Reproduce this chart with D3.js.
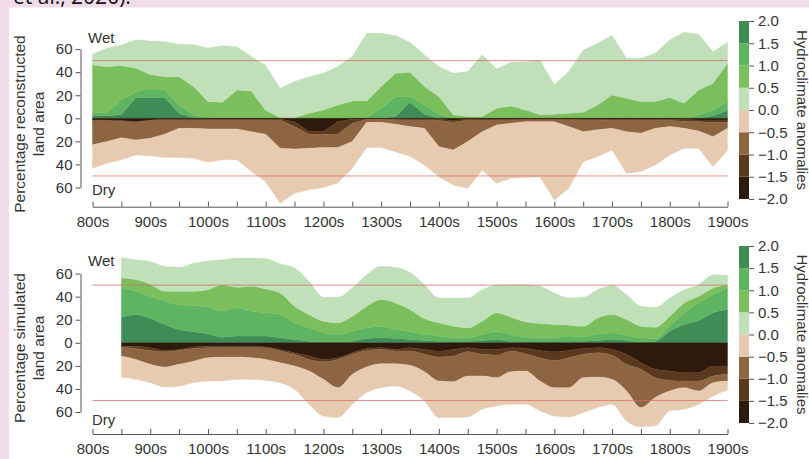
<!DOCTYPE html>
<html>
<head>
<meta charset="utf-8">
<script src="https://cdn.jsdelivr.net/npm/d3@7"></script>
<style>
  body { margin: 0; background: #f0dce8; }
  svg { display: block; }
  text { font-family: "Liberation Sans", Arial, sans-serif; fill: #333; }
</style>
</head>
<body>
<svg id="chart" width="809" height="459"></svg>
<script>
// Sample years (25-year steps)
const reconYears = [
  800, 825, 850, 875,
  900, 925, 950, 975,
  1000, 1025, 1050, 1075,
  1100, 1125, 1150, 1175,
  1200, 1225, 1250, 1275,
  1300, 1325, 1350, 1375,
  1400, 1425, 1450, 1475,
  1500, 1525, 1550, 1575,
  1600, 1625, 1650, 1675,
  1700, 1725, 1750, 1775,
  1800, 1825, 1850, 1875,
  1900
];
const simYears = [
  850, 875,
  900, 925, 950, 975,
  1000, 1025, 1050, 1075,
  1100, 1125, 1150, 1175,
  1200, 1225, 1250, 1275,
  1300, 1325, 1350, 1375,
  1400, 1425, 1450, 1475,
  1500, 1525, 1550, 1575,
  1600, 1625, 1650, 1675,
  1700, 1725, 1750, 1775,
  1800, 1825, 1850, 1875,
  1900
];

// Reconstructed: % land area per anomaly class
const reconWet4 = [2.3, 2.3, 3, 18,  18, 18, 4.3, 0.5,  0, 0, 0, 0,  0, 0, 0, 0,  0, 0, 0, 0,  0, 1.5, 14, 3.5,  0, 0, 0, 0,  0, 0, 0, 0,  0, 0, 0, 0,  0, 0, 0, 0,  0, 0, 0, 2.3,  7];
const reconWet3 = [2.0, 2.9, 13, 5,  8, 6.6, 7.3, 2.5,  0.5, 0, 0, 0,  0, 0, 0, 0,  0, 0, 0, 0.5,  8.7, 17.3, 4.8, 8.1,  3.5, 0, 0, 0,  0, 0, 0, 0,  0, 0, 0, 0,  0, 0, 0, 0,  0, 0, 3, 4.9,  7.5];
const reconWet2 = [41.9, 39.6, 29.7, 20.4,  12, 11.4, 24.4, 24.5,  14, 14, 24.5, 23.7,  7, 0.5, 0.5, 4.3,  7.2, 11.6, 15, 14.5,  18.8, 20.2, 21.2, 15.9,  15.3, 3, 1.5, 1.5,  8.7, 10.7, 7.2, 3,  3.5, 4.3, 5.2, 11.6,  20.2, 17.3, 14.5, 14.5,  18, 13, 21.6, 23.1,  33.2];
const reconWet1 = [9.3, 15.9, 17.9, 24.6,  29, 30.5, 28, 36.5,  46.5, 49, 37.5, 29.8,  39, 25.5, 31.5, 31.7,  31.8, 33.4, 38.5, 58.7,  46.2, 32.7, 26, 27.5,  26.2, 36, 39, 53.5,  34.3, 37.8, 41.8, 47.5,  25.5, 36.2, 53.8, 53.4,  51.5, 34.7, 37.5, 41.9,  50, 61.6, 48.2, 27.5,  18.3];
const reconDry1 = [20.4, 18.8, 19.2, 13,  15.1, 20.1, 25.3, 26,  28.8, 26.8, 26.8, 34.4,  41.1, 47.7, 38.4, 36,  34.6, 30.6, 23.2, 21.9,  21.9, 23.8, 25.8, 31.8,  26, 30.3, 40.5, 33.2,  50.6, 47.7, 48.5, 47.7,  67.9, 53.5, 26, 23.2,  18.8, 36.1, 33.2, 31.8,  24.6, 17.3, 15, 26,  19.3];
const reconDry2 = [21, 18.2, 14.3, 15.6,  15.3, 12.4, 7.2, 7.2,  7.7, 7.7, 7.7, 10.1,  12.4, 24.5, 19.4, 12.1,  11.5, 11.5, 15.9, 2.6,  2.6, 4, 5.7, 7.2,  22.6, 24, 18.7, 10.1,  4.3, 2.8, 1.7, 1.7,  1.7, 6, 10.1, 8.5,  6.7, 9.6, 11, 6.7,  5.2, 6.2, 8, 12.4,  5.2];
const reconDry3 = [0.6, 0.6, 0.5, 0.3,  0.6, 0.6, 0.6, 0.6,  0.6, 0.6, 0.6, 0.6,  0.6, 0.6, 4.3, 2.4,  2.4, 11, 3.4, 0.3,  0.3, 0.6, 0.6, 0.6,  1.1, 1.5, 0.6, 0.6,  0.6, 0.6, 0.6, 0.6,  0.6, 0.6, 0.6, 0.6,  1.1, 1.1, 1.1, 1.1,  1.1, 1.3, 1.5, 2,  2];
const reconDry4 = [1.4, 1.4, 2, 2.9,  1.4, 0.9, 0.9, 0.9,  0.9, 0.9, 0.9, 0.9,  0.9, 0.9, 2.9, 11.5,  11.5, 2.9, 0.9, 0.6,  0.6, 0.6, 0.9, 0.9,  0.9, 2, 0.9, 0.9,  0.9, 0.9, 0.6, 0.6,  0.6, 0.6, 0.9, 0.9,  0.9, 0.9, 0.9, 0.9,  0.9, 1.2, 1.5, 1.5,  1.5];

// Simulated: % land area per anomaly class
const simWet4 = [22, 24.5,  21, 15.9, 11.5, 9.5,  7.8, 4.9, 5.8, 5.8,  5.8, 4.3, 2.9, 1.4,  0.9, 0.9, 1.4, 3.7,  4.3, 3.7, 2.9, 2,  1.4, 1.4, 1.4, 2,  2.9, 1.4, 1.4, 1.4,  1.4, 1.4, 1.4, 2,  2.9, 2, 0.9, 1.4,  10, 15.9, 19.3, 26,  28.8];
const simWet3 = [25.5, 20.2,  19.3, 20.1, 21.5, 22.8,  23, 22.5, 24.5, 21.6,  20.2, 20.2, 14.4, 11.6,  7.7, 6.3, 8.6, 9.3,  10.1, 7.8, 6.6, 5.2,  4.4, 2.9, 2.9, 5.2,  6.6, 5.8, 3.5, 2.9,  2.9, 4.4, 3.5, 5.8,  5.7, 4.6, 3.4, 2.3,  4.4, 10.1, 15.3, 15.8,  18.7];
const simWet2 = [8.7, 10.1,  10.7, 8.7, 11.7, 12.4,  15.3, 23, 17.8, 21.6,  20.7, 18.7, 14.4, 11.5,  10.1, 10.1, 13, 18.7,  23.1, 23.1, 19.3, 13.8,  11.5, 10.1, 8.7, 11.5,  16.5, 15, 13.3, 12.4,  11.6, 9.5, 9.5, 13.8,  15.9, 13.6, 10.1, 9.8,  8.6, 8.6, 5.7, 5.7,  2.9];
const simWet1 = [17.8, 17.2,  19.6, 21.6, 20.7, 24.3,  24.9, 21.6, 25.4, 24.5,  26.3, 25.1, 33.1, 28.8,  20.8, 22.2, 24.5, 27.3,  28.8, 30.8, 32.2, 29.4,  21.6, 24.5, 25.9, 27.3,  24, 28.2, 32.2, 32.3,  27.3, 23.6, 25.1, 24.4,  25.5, 21.6, 17.3, 17.3,  15.9, 11.4, 10.1, 11.5,  8.1];
const simDry1 = [18.2, 17.3,  15.9, 17.3, 18.8, 18.7,  20.1, 20.7, 19.3, 18.7,  18.2, 17.3, 20.1, 28.8,  31.7, 25.9, 25.9, 22.2,  20.7, 19.3, 22.3, 25.4,  31.7, 31.1, 35.5, 28.8,  24.5, 28.3, 28.8, 25.9,  24.5, 25.4, 30.2, 26.5,  21.6, 25.9, 16.7, 24.5,  17.2, 18.7, 11.5, 11.5,  7.9];
const simDry2 = [7.8, 9.5,  12.1, 13.2, 12.1, 11,  8.7, 8.1, 8.1, 8.7,  10.1, 10.1, 10.2, 10.1,  15.3, 24.5, 17.4, 14.4,  12.4, 11, 12.3, 15,  20.7, 22.2, 21, 18.8,  19.6, 17.8, 15, 20.1,  23.6, 25.9, 20.3, 21.1,  21, 23.1, 33.2, 17.2,  9.2, 5.8, 8.7, 5.8,  6.3];
const simDry3 = [0.8, 2,  2.3, 1.2, 0.8, 1.2,  1.4, 1.4, 1.4, 1.4,  0.6, 1.4, 1.4, 2.9,  2, 1.4, 1.4, 1.7,  1.5, 1.4, 2.9, 4.2,  5.2, 5.7, 3.5, 4.2,  4.9, 2.9, 4.6, 6.4,  7.5, 6.4, 5.1, 4.3,  4.9, 8.7, 5.7, 7.3,  8.1, 7.2, 7.2, 8.6,  6.6];
const simDry4 = [2.9, 2.9,  4.3, 6.6, 5.8, 3.7,  2.9, 2.9, 2.9, 2.9,  3.7, 5.8, 8.6, 11.5,  14.4, 13, 8.6, 4.9,  4.3, 5.8, 4.3, 5.8,  7.2, 5.8, 4.3, 5.8,  5.8, 4.3, 4.9, 6.6,  7.8, 6.6, 4.9, 4.3,  5.8, 10, 17.3, 23,  24.5, 25.9, 25.9, 20.2,  20.2];

// Axis ticks and labels
const yTickValues = [60, 40, 20, 0, -20, -40, -60];
const xTickYears = [800, 850, 900, 950, 1000, 1050, 1100, 1150, 1200, 1250, 1300, 1350,
                    1400, 1450, 1500, 1550, 1600, 1650, 1700, 1750, 1800, 1850, 1900];
const colorbarTicks = [2.0, 1.5, 1.0, 0.5, 0.0, -0.5, -1.0, -1.5, -2.0];
const thresholdLines = [50, -50];

// Stack order: most extreme class sits next to the zero line
const keys = ["w4", "w3", "w2", "w1", "d4", "d3", "d2", "d1"];
const palette = {
  w4: "#408c56", w3: "#5fb462", w2: "#7bbf5d", w1: "#bfe0b8",
  d1: "#e7cbb0", d2: "#8d6543", d3: "#5a391e", d4: "#2e1a0c"
};
// Colour bar bins, bottom to top
const binEdges = [-2, -1.5, -1, -0.5, 0, 0.5, 1, 1.5, 2];
const binKeys = ["d4", "d3", "d2", "d1", "w1", "w2", "w3", "w4"];

function buildRows(years, w4, w3, w2, w1, d4, d3, d2, d1) {
  return years.map((year, i) => ({
    year,
    w4: w4[i], w3: w3[i], w2: w2[i], w1: w1[i],
    d4: -d4[i], d3: -d3[i], d2: -d2[i], d1: -d1[i]
  }));
}

const svg = d3.select("#chart");
const fmtMinus = d3.format(".1f");

// page backdrop: pink border with a white sheet
svg.append("rect").attr("x", 0).attr("y", 0).attr("width", 809).attr("height", 459).attr("fill", "#f0dce8");
svg.append("text").attr("x", 13).attr("y", 4)
  .style("font-family", "'Open Sans', 'Noto Sans', sans-serif")
  .style("font-size", "21px").style("fill", "#111")
  .text("et al., 2020).");
svg.append("rect").attr("x", 9).attr("y", 7.5).attr("width", 800).attr("height", 452).attr("fill", "#ffffff");

const x = d3.scaleLinear().domain([800, 1900]).range([92.5, 727.5]);

function drawPanel(opts) {
  const g = svg.append("g");
  const y = d3.scaleLinear().domain([-60, 60]).range([opts.zero + 69.2, opts.zero - 69.2]);

  const rows = buildRows(opts.years, ...opts.series);
  const stacked = d3.stack().keys(keys).offset(d3.stackOffsetDiverging)(rows);

  const area = d3.area()
    .x(d => x(d.data.year))
    .y0(d => y(d[0]))
    .y1(d => y(d[1]))
    .curve(opts.curve);

  g.selectAll("path.layer").data(stacked).join("path")
    .attr("class", "layer")
    .attr("fill", d => palette[d.key])
    .attr("stroke", d => palette[d.key])
    .attr("stroke-width", 0.4)
    .attr("d", area);

  // ±50% reference lines
  g.selectAll("line.ref").data(thresholdLines).join("line")
    .attr("class", "ref")
    .attr("x1", x(800)).attr("x2", x(1900))
    .attr("y1", d => y(d)).attr("y2", d => y(d))
    .attr("stroke", "#d96a62").attr("stroke-opacity", 0.75).attr("stroke-width", 1);

  // y axis
  const yAxis = d3.axisLeft(y).tickValues(yTickValues)
    .tickFormat(d => Math.abs(d)).tickSize(5).tickSizeOuter(0);
  const ya = g.append("g").attr("transform", "translate(80.5,0)").call(yAxis);
  ya.selectAll("path, line").attr("stroke", "#555");
  ya.selectAll("text").style("font-size", "15px").style("font-family", "'Liberation Sans', Arial, sans-serif").attr("fill", "#333");

  // x axis: ticks point up, labels every century
  const xAxis = d3.axisBottom(x).tickValues(xTickYears)
    .tickFormat(d => d % 100 === 0 ? d + "s" : "")
    .tickSize(-5).tickSizeOuter(0);
  const xa = g.append("g").attr("transform", `translate(0,${opts.axisY})`).call(xAxis);
  xa.selectAll("path, line").attr("stroke", "#555");
  xa.selectAll("text").attr("y", 20).attr("dy", 0)
    .style("font-size", "15px").style("font-family", "'Liberation Sans', Arial, sans-serif").attr("fill", "#333");

  g.append("text").attr("x", 88).attr("y", opts.wetY).style("font-size", "15px").text("Wet");
  g.append("text").attr("x", 92).attr("y", opts.dryY).style("font-size", "15px").text("Dry");

  // y title (two lines)
  const t = g.append("text")
    .attr("transform", `translate(0,${opts.titleY}) rotate(-90)`)
    .attr("text-anchor", "middle").style("font-size", "15.5px");
  t.append("tspan").attr("x", 0).attr("y", 25).text(opts.title1);
  t.append("tspan").attr("x", 0).attr("y", 44).text(opts.title2);

  // colour bar
  const cb = d3.scaleLinear().domain([-2, 2]).range([opts.cbBottom, opts.cbTop]);
  const bins = d3.pairs(binEdges).map((p, i) => ({ lo: p[0], hi: p[1], key: binKeys[i] }));
  g.selectAll("rect.bin").data(bins).join("rect")
    .attr("class", "bin")
    .attr("x", 739).attr("width", 10)
    .attr("y", d => cb(d.hi)).attr("height", d => cb(d.lo) - cb(d.hi))
    .attr("fill", d => palette[d.key]);
  const cbAxis = d3.axisRight(cb).tickValues(colorbarTicks).tickFormat(fmtMinus)
    .tickSize(5).tickSizeOuter(0);
  const ca = g.append("g").attr("transform", "translate(749,0)").call(cbAxis);
  ca.select("path.domain").remove();
  ca.selectAll("line").attr("stroke", "#555");
  ca.selectAll("text").attr("x", 9)
    .style("font-size", "15px").style("font-family", "'Liberation Sans', Arial, sans-serif").attr("fill", "#333");

  g.append("text")
    .attr("transform", `translate(796.5,${(opts.cbTop + opts.cbBottom) / 2}) rotate(90)`)
    .attr("text-anchor", "middle").style("font-size", "15px")
    .text("Hydroclimate anomalies");
}

drawPanel({
  years: reconYears,
  series: [reconWet4, reconWet3, reconWet2, reconWet1, reconDry4, reconDry3, reconDry2, reconDry1],
  zero: 118.3, axisY: 206.7, wetY: 43, dryY: 195, titleY: 124,
  title1: "Percentage reconstructed", title2: "land area",
  cbTop: 21, cbBottom: 199, curve: d3.curveLinear
});

drawPanel({
  years: simYears,
  series: [simWet4, simWet3, simWet2, simWet1, simDry4, simDry3, simDry2, simDry1],
  zero: 342.8, axisY: 434, wetY: 266, dryY: 425, titleY: 348,
  title1: "Percentage simulated", title2: "land area",
  cbTop: 246, cbBottom: 423, curve: d3.curveMonotoneX
});
</script>
</body>
</html>
